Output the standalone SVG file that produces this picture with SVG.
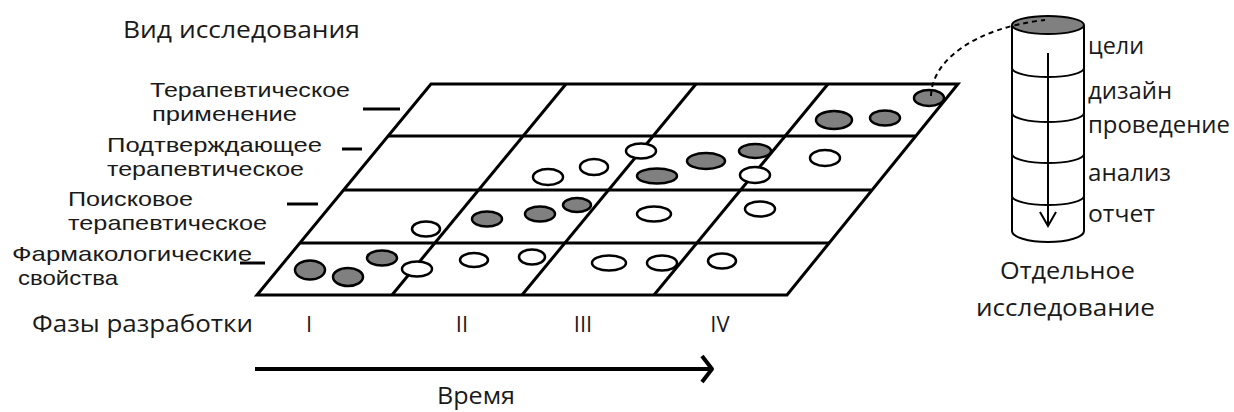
<svg xmlns="http://www.w3.org/2000/svg" width="1234" height="412" viewBox="0 0 1234 412">
<style>
text{font-family:"Open Sans","Liberation Sans",sans-serif;fill:#1a1a1a}
.lbl{font-family:"Liberation Sans","Open Sans",sans-serif;font-size:21px}
.big{font-size:23px}
.rn{font-size:22px;text-anchor:middle}
.grid{fill:none;stroke:#000;stroke-width:3;stroke-linejoin:miter}
.tick{stroke:#000;stroke-width:3}
.g{fill:#808080;stroke:#000;stroke-width:2.5}
.o{fill:#fff;stroke:#000;stroke-width:2.5}
.cyl{fill:none;stroke:#000;stroke-width:2}
</style>
<rect width="1234" height="412" fill="#fff"/>
<g id="axis-label">
<text class="big" x="123" y="38" textLength="237" lengthAdjust="spacingAndGlyphs">Вид исследования</text>
</g>
<g id="grid">
<polygon class="grid" points="431,84 958,84 787,295 257,295"/>
<line class="grid" x1="388" y1="136" x2="915" y2="136"/>
<line class="grid" x1="344" y1="190" x2="871" y2="190"/>
<line class="grid" x1="300" y1="243" x2="829" y2="243"/>
<line class="grid" x1="566" y1="84" x2="392" y2="295"/>
<line class="grid" x1="696" y1="84" x2="522" y2="295"/>
<line class="grid" x1="828" y1="84" x2="654" y2="295"/>
</g>
<g id="row-labels">
<line class="tick" x1="363" y1="109" x2="400" y2="109"/>
<line class="tick" x1="342" y1="149" x2="362" y2="149"/>
<line class="tick" x1="287" y1="204" x2="318" y2="204"/>
<line class="tick" x1="240" y1="263" x2="265" y2="263"/>
<text class="lbl" x="150" y="97" textLength="200" lengthAdjust="spacingAndGlyphs">Терапевтическое</text>
<text class="lbl" x="152" y="121" textLength="145" lengthAdjust="spacingAndGlyphs">применение</text>
<text class="lbl" x="107" y="152" textLength="215" lengthAdjust="spacingAndGlyphs">Подтверждающее</text>
<text class="lbl" x="107" y="176" textLength="197" lengthAdjust="spacingAndGlyphs">терапевтическое</text>
<text class="lbl" x="68" y="206" textLength="125" lengthAdjust="spacingAndGlyphs">Поисковое</text>
<text class="lbl" x="68" y="230" textLength="199" lengthAdjust="spacingAndGlyphs">терапевтическое</text>
<text class="lbl" x="12" y="261" textLength="240" lengthAdjust="spacingAndGlyphs">Фармакологические</text>
<text class="lbl" x="18" y="285" textLength="100" lengthAdjust="spacingAndGlyphs">свойства</text>
</g>
<g id="studies">
<ellipse class="g" cx="834" cy="120" rx="18" ry="9"/>
<ellipse class="g" cx="885" cy="118" rx="15" ry="7.5"/>
<ellipse class="g" cx="929" cy="98" rx="15" ry="8"/>
<ellipse class="o" cx="548" cy="177" rx="15" ry="8"/>
<ellipse class="o" cx="594" cy="167" rx="14" ry="8"/>
<ellipse class="o" cx="641" cy="151" rx="15" ry="7.5"/>
<ellipse class="g" cx="657" cy="176" rx="20" ry="7.5"/>
<ellipse class="g" cx="706" cy="161" rx="19" ry="8"/>
<ellipse class="g" cx="755" cy="151" rx="16" ry="7"/>
<ellipse class="o" cx="755" cy="175" rx="15" ry="8"/>
<ellipse class="o" cx="825" cy="158" rx="15" ry="8"/>
<ellipse class="o" cx="426" cy="229" rx="14" ry="7.5"/>
<ellipse class="g" cx="487" cy="219" rx="15" ry="7.5"/>
<ellipse class="g" cx="540" cy="214" rx="15" ry="7.5"/>
<ellipse class="g" cx="577" cy="205" rx="14" ry="7"/>
<ellipse class="o" cx="654" cy="214" rx="17" ry="7.5"/>
<ellipse class="o" cx="760" cy="209" rx="15" ry="7.5"/>
<ellipse class="g" cx="310" cy="270" rx="15" ry="9.5"/>
<ellipse class="g" cx="348" cy="277" rx="15" ry="9"/>
<ellipse class="g" cx="382" cy="258" rx="15" ry="7.5"/>
<ellipse class="o" cx="417" cy="269" rx="15" ry="7.5"/>
<ellipse class="o" cx="474" cy="260" rx="14" ry="7"/>
<ellipse class="o" cx="532" cy="257" rx="13" ry="7.5"/>
<ellipse class="o" cx="609" cy="263" rx="17" ry="7.5"/>
<ellipse class="o" cx="662" cy="263" rx="15" ry="7.5"/>
<ellipse class="o" cx="722" cy="261" rx="14" ry="7.5"/>
</g>
<g id="single-study">
<line class="cyl" x1="1012" y1="25" x2="1012" y2="231"/>
<line class="cyl" x1="1084" y1="25" x2="1084" y2="231"/>
<path class="cyl" d="M1012,231 A36,11 0 0 0 1084,231"/>
<path class="cyl" d="M1012,68 A36,9 0 0 0 1084,68"/>
<path class="cyl" d="M1012,113 A36,9 0 0 0 1084,113"/>
<path class="cyl" d="M1012,154 A36,9 0 0 0 1084,154"/>
<path class="cyl" d="M1012,196 A36,9 0 0 0 1084,196"/>
<ellipse cx="1048" cy="25" rx="36" ry="9" fill="#808080" stroke="#000" stroke-width="2"/>
<line class="cyl" x1="1048" y1="53" x2="1048" y2="226"/>
<polyline class="cyl" points="1040,212 1048,226 1056,212"/>
<text class="big" x="1088" y="54" textLength="56" lengthAdjust="spacingAndGlyphs">цели</text>
<text class="big" x="1088" y="99" textLength="84" lengthAdjust="spacingAndGlyphs">дизайн</text>
<text class="big" x="1088" y="133" textLength="142" lengthAdjust="spacingAndGlyphs">проведение</text>
<text class="big" x="1088" y="181" textLength="83" lengthAdjust="spacingAndGlyphs">анализ</text>
<text class="big" x="1088" y="222" textLength="67" lengthAdjust="spacingAndGlyphs">отчет</text>
<text class="big" x="1000" y="279" textLength="135" lengthAdjust="spacingAndGlyphs">Отдельное</text>
<text class="big" x="976" y="316" textLength="179" lengthAdjust="spacingAndGlyphs">исследование</text>
</g>
<g id="connectors">
<path d="M931,96 C932,60 975,28 1045,20" fill="none" stroke="#000" stroke-width="2" stroke-dasharray="5,4"/>
</g>
<g id="time-axis">
<text class="big" x="32" y="332" textLength="221" lengthAdjust="spacingAndGlyphs">Фазы разработки</text>
<text class="rn" x="309" y="332">I</text>
<text class="rn" x="462" y="332">II</text>
<text class="rn" x="583" y="332">III</text>
<text class="rn" x="720" y="332">IV</text>
<line x1="255" y1="369" x2="711" y2="369" stroke="#000" stroke-width="4"/>
<polyline points="702,356 712,369 702,382" fill="none" stroke="#000" stroke-width="4" stroke-linejoin="round"/>
<text class="big" x="437" y="404" textLength="78" lengthAdjust="spacingAndGlyphs">Время</text>
</g>
</svg>
